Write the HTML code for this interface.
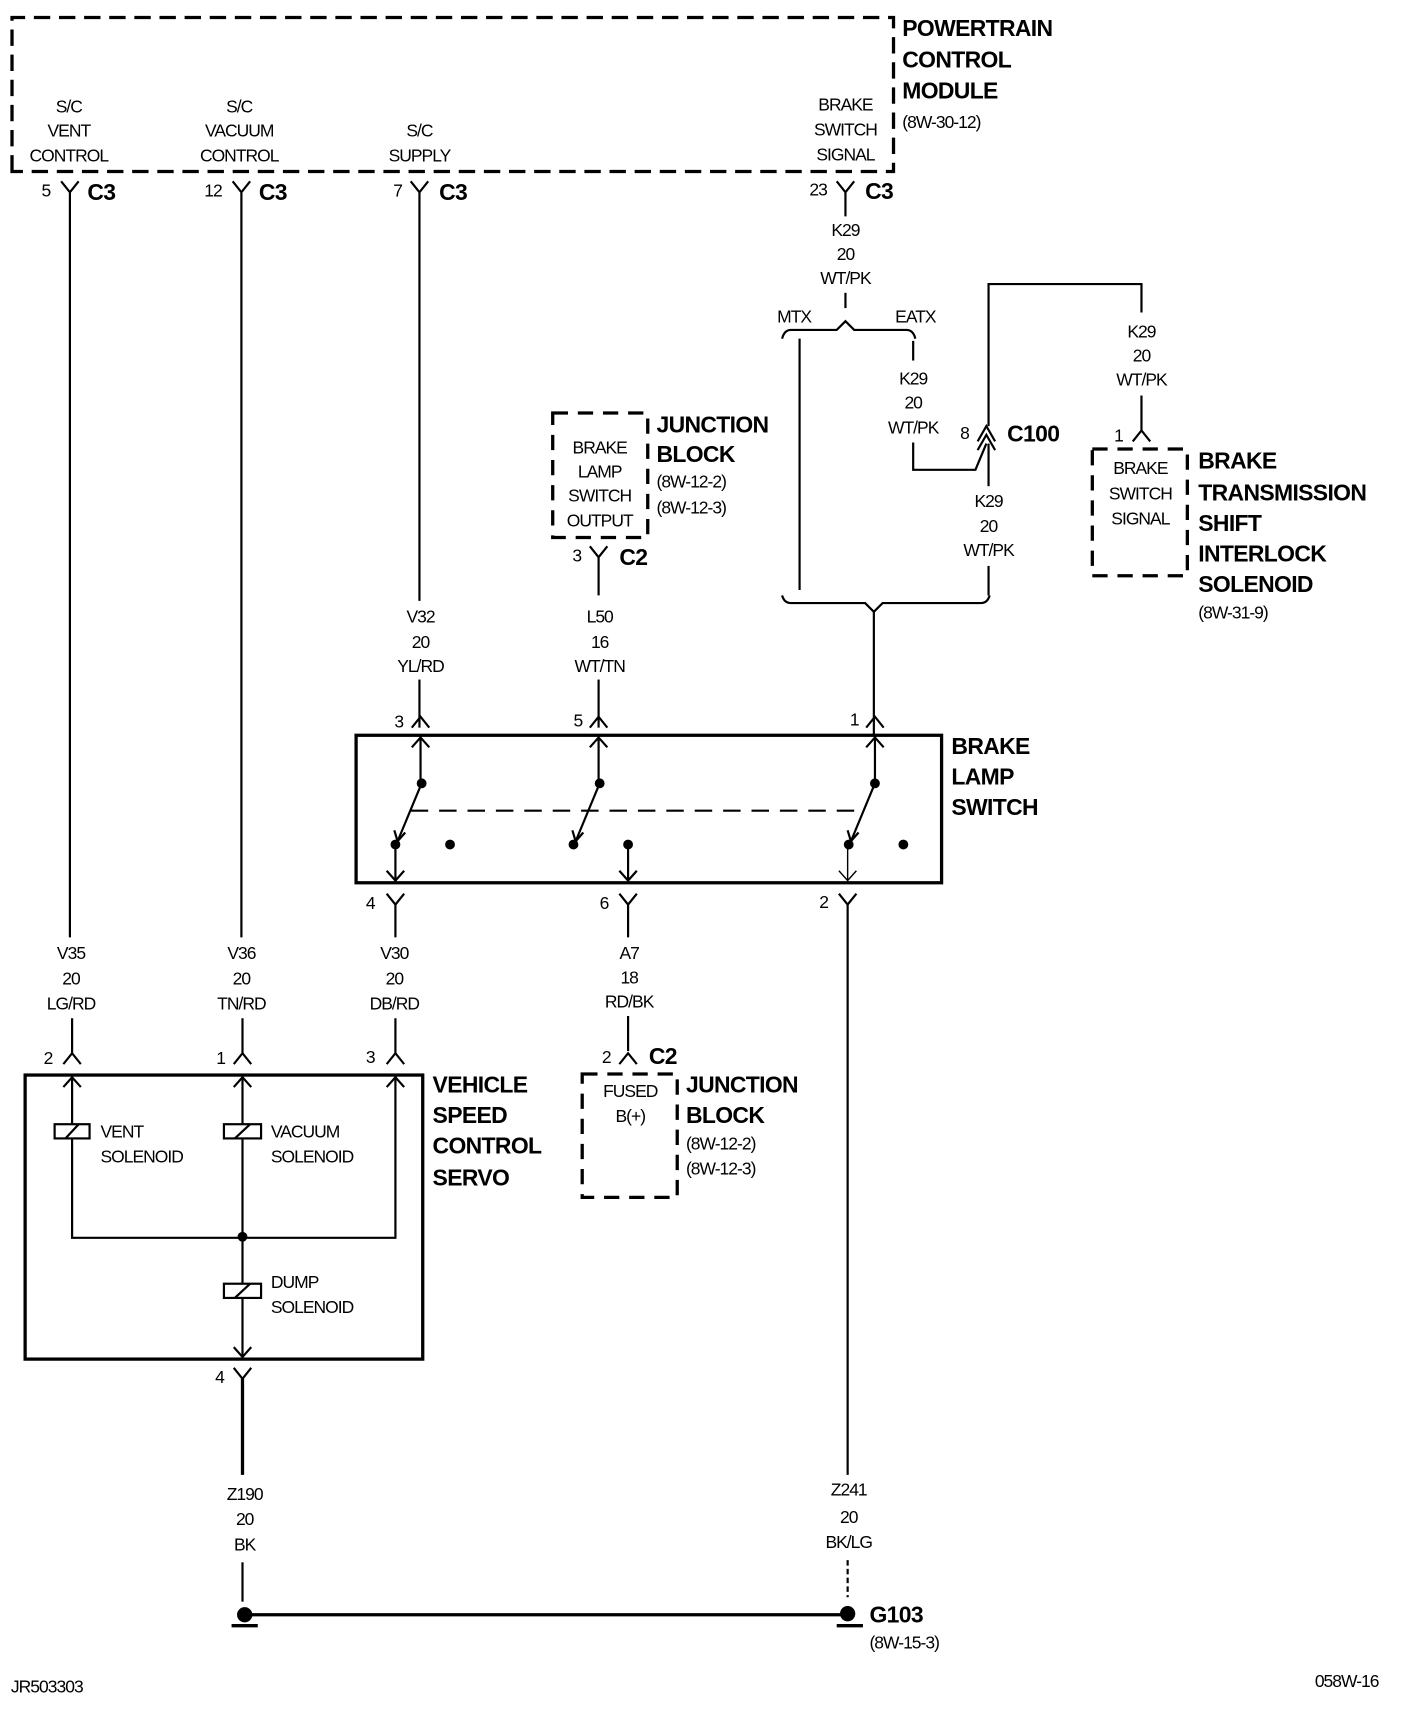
<!DOCTYPE html>
<html><head><meta charset="utf-8"><style>
html,body{margin:0;padding:0;background:#fff;}
svg{display:block;}
text{font-family:"Liberation Sans Narrow","Liberation Sans",sans-serif;fill:#000;}
.s{font-size:16px;letter-spacing:-0.9px;}
.b{font-size:21px;font-weight:bold;letter-spacing:-0.6px;}
.m{text-anchor:middle;}
</style></head><body>
<svg width="1408" height="1712" viewBox="0 0 1289 1567" preserveAspectRatio="none" xmlns="http://www.w3.org/2000/svg">
<g fill="none" stroke="#000" stroke-width="2">
<path d="M11 157 V16 H818 V157 Z" stroke-width="3" stroke-dasharray="15 8"/>
<path d="M56 166 L64 176 L72 166 M64 176 V858"/>
<path d="M213 166 L221 176 L229 166 M221 176 V858"/>
<path d="M376 166 L384 176 L392 166 M384 176 V550"/>
<path d="M766 166 L774 176 L782 166 M774 176 V198"/>
<path d="M774 268 V282"/>
<path d="M716 310 Q718 302 724 302 H766 L774 294 L782 302 H830 Q836 302 838 310"/>
<path d="M732 310 V540"/>
<path d="M836 312 V330"/>
<path d="M836 405 V430 H893 L903 406"/>
<path d="M895 404 L903 390 L911 404 M895 412 L903 398 L911 412"/>
<path d="M905 390 V260 H1045 V286"/>
<path d="M905 406 V445"/>
<path d="M905 518 V545"/>
<path d="M1045 362 V394 M1037 404 L1045 394 L1053 404"/>
<path d="M716 545 Q718 552 724 552 H792 L800 560 L808 552 H898 Q904 552 906 545"/>
<path d="M800 560 V672"/>
<path d="M1000 411 H1087 V527 H1000 Z" stroke-width="3" stroke-dasharray="14 9"/>
<path d="M506 378 H593 V492 H506 Z" stroke-width="3" stroke-dasharray="14 9"/>
<path d="M540 500 L548 510 L556 500 M548 510 V545"/>
<path d="M548 622 V666"/>
<path d="M384 622 V666"/>
<path d="M377 666 L385 656 L393 666 M540 666 L548 656 L556 666 M793 666 L801 656 L809 666"/>
<rect x="326" y="673" width="536" height="135" stroke-width="3"/>
<path d="M385 673 V717 M377 684 L385 675 L393 684"/>
<path d="M548 673 V717 M540 684 L548 675 L556 684"/>
<path d="M801 673 V717 M793 684 L801 675 L809 684"/>
<path d="M386 717 L364 770 M549 717 L527 770 M801 717 L779 770"/>
<path d="M361 760 L364 770 L371 762 M524 760 L527 770 L534 762 M776 760 L779 770 L786 762" stroke-width="2"/>
<path d="M376 742 H790" stroke-dasharray="16 10"/>
<path d="M362 773 V806 M354 797 L362 806 L370 797"/>
<path d="M575 773 V806 M567 797 L575 806 L583 797"/>
<path d="M776 773 V806 M768 797 L776 806 L784 797" stroke-width="1.3"/>
<path d="M354 818 L362 828 L370 818 M362 828 V858"/>
<path d="M567 818 L575 828 L583 818 M575 828 V858"/>
<path d="M768 818 L776 828 L784 818 M776 828 V1350"/>
<path d="M575 930 V962 M567 974 L575 964 L583 974"/>
<path d="M533 983 H620 V1096 H533 Z" stroke-width="3" stroke-dasharray="14 9"/>
<path d="M66 932 V964 M58 974 L66 964 L74 974"/>
<path d="M222 932 V964 M214 974 L222 964 L230 974"/>
<path d="M362 932 V964 M354 974 L362 964 L370 974"/>
<rect x="23" y="984" width="364" height="260" stroke-width="3"/>
<path d="M66 985 V1133 H362 V985 M58 995 L66 986 L74 995 M354 995 L362 986 L370 995"/>
<path d="M222 985 V1241 M214 995 L222 986 L230 995 M214 1233 L222 1242 L230 1233"/>
<rect x="50" y="1029" width="32" height="13" fill="#fff"/>
<path d="M60 1042 L72 1029"/>
<rect x="205" y="1029" width="34" height="13" fill="#fff"/>
<path d="M215 1042 L229 1029"/>
<rect x="205" y="1175" width="34" height="13" fill="#fff"/>
<path d="M215 1188 L229 1175"/>
<path d="M214 1252 L222 1262 L230 1252"/>
<path d="M222 1262 V1350" stroke-width="3"/>
<path d="M222 1430 V1466"/>
<path d="M776 1428 V1462" stroke-dasharray="5 3"/>
<path d="M222 1478 H776" stroke-width="3"/>
<path d="M212 1488 H236 M766 1488 H790" stroke-width="3"/>
</g>
<g fill="#000">
<circle cx="386" cy="717" r="4.5"/><circle cx="549" cy="717" r="4.5"/><circle cx="801" cy="717" r="4.5"/>
<circle cx="362" cy="773" r="4.5"/><circle cx="412" cy="773" r="4.5"/>
<circle cx="525" cy="773" r="4.5"/><circle cx="575" cy="773" r="4.5"/>
<circle cx="777" cy="773" r="4.5"/><circle cx="827" cy="773" r="4.5"/>
<circle cx="222" cy="1132" r="4.5"/>
<circle cx="224" cy="1478" r="7"/><circle cx="776" cy="1477" r="7"/>
</g>
<text class="b" x="826" y="33">POWERTRAIN</text>
<text class="b" x="826" y="62">CONTROL</text>
<text class="b" x="826" y="90">MODULE</text>
<text class="s" x="826" y="117">(8W-30-12)</text>
<text class="s m" x="63" y="103">S/C</text><text class="s m" x="63" y="125">VENT</text><text class="s m" x="63" y="148">CONTROL</text>
<text class="s m" x="219" y="103">S/C</text><text class="s m" x="219" y="125">VACUUM</text><text class="s m" x="219" y="148">CONTROL</text>
<text class="s m" x="384" y="125">S/C</text><text class="s m" x="384" y="148">SUPPLY</text>
<text class="s m" x="774" y="101">BRAKE</text><text class="s m" x="774" y="124">SWITCH</text><text class="s m" x="774" y="147">SIGNAL</text>
<text class="s" x="38" y="180">5</text><text class="b" x="80" y="183">C3</text>
<text class="s" x="187" y="180">12</text><text class="b" x="237" y="183">C3</text>
<text class="s" x="360" y="180">7</text><text class="b" x="402" y="183">C3</text>
<text class="s" x="741" y="179">23</text><text class="b" x="792" y="182">C3</text>
<text class="s m" x="774" y="216">K29</text><text class="s m" x="774" y="238">20</text><text class="s m" x="774" y="260">WT/PK</text>
<text class="s m" x="727" y="295">MTX</text><text class="s m" x="838" y="295">EATX</text>
<text class="s m" x="836" y="352">K29</text><text class="s m" x="836" y="374">20</text><text class="s m" x="836" y="397">WT/PK</text>
<text class="s" x="879" y="402">8</text><text class="b" x="922" y="404">C100</text>
<text class="s m" x="1045" y="309">K29</text><text class="s m" x="1045" y="331">20</text><text class="s m" x="1045" y="353">WT/PK</text>
<text class="s" x="1020" y="404">1</text>
<text class="s m" x="905" y="464">K29</text><text class="s m" x="905" y="487">20</text><text class="s m" x="905" y="509">WT/PK</text>
<text class="s m" x="1044" y="434">BRAKE</text><text class="s m" x="1044" y="457">SWITCH</text><text class="s m" x="1044" y="480">SIGNAL</text>
<text class="b" x="1097" y="429">BRAKE</text><text class="b" x="1097" y="458">TRANSMISSION</text><text class="b" x="1097" y="486">SHIFT</text><text class="b" x="1097" y="514">INTERLOCK</text><text class="b" x="1097" y="542">SOLENOID</text>
<text class="s" x="1097" y="566">(8W-31-9)</text>
<text class="s m" x="549" y="415">BRAKE</text><text class="s m" x="549" y="437">LAMP</text><text class="s m" x="549" y="459">SWITCH</text><text class="s m" x="549" y="482">OUTPUT</text>
<text class="b" x="601" y="396">JUNCTION</text><text class="b" x="601" y="423">BLOCK</text>
<text class="s" x="601" y="446">(8W-12-2)</text><text class="s" x="601" y="470">(8W-12-3)</text>
<text class="s" x="524" y="514">3</text><text class="b" x="567" y="517">C2</text>
<text class="s m" x="385" y="570">V32</text><text class="s m" x="385" y="593">20</text><text class="s m" x="385" y="615">YL/RD</text>
<text class="s m" x="549" y="570">L50</text><text class="s m" x="549" y="593">16</text><text class="s m" x="549" y="615">WT/TN</text>
<text class="s" x="361" y="666">3</text><text class="s" x="525" y="665">5</text><text class="s" x="778" y="664">1</text>
<text class="b" x="871" y="690">BRAKE</text><text class="b" x="871" y="718">LAMP</text><text class="b" x="871" y="746">SWITCH</text>
<text class="s" x="335" y="832">4</text><text class="s" x="549" y="832">6</text><text class="s" x="750" y="831">2</text>
<text class="s m" x="65" y="878">V35</text><text class="s m" x="65" y="901">20</text><text class="s m" x="65" y="924">LG/RD</text>
<text class="s m" x="221" y="878">V36</text><text class="s m" x="221" y="901">20</text><text class="s m" x="221" y="924">TN/RD</text>
<text class="s m" x="361" y="878">V30</text><text class="s m" x="361" y="901">20</text><text class="s m" x="361" y="924">DB/RD</text>
<text class="s m" x="576" y="878">A7</text><text class="s m" x="576" y="900">18</text><text class="s m" x="576" y="922">RD/BK</text>
<text class="s" x="40" y="974">2</text><text class="s" x="198" y="974">1</text><text class="s" x="335" y="973">3</text>
<text class="s" x="551" y="973">2</text><text class="b" x="594" y="974">C2</text>
<text class="s m" x="577" y="1004">FUSED</text><text class="s m" x="577" y="1027">B(+)</text>
<text class="b" x="628" y="1000">JUNCTION</text><text class="b" x="628" y="1028">BLOCK</text>
<text class="s" x="628" y="1052">(8W-12-2)</text><text class="s" x="628" y="1075">(8W-12-3)</text>
<text class="b" x="396" y="1000">VEHICLE</text><text class="b" x="396" y="1028">SPEED</text><text class="b" x="396" y="1056">CONTROL</text><text class="b" x="396" y="1085">SERVO</text>
<text class="s" x="92" y="1041">VENT</text><text class="s" x="92" y="1064">SOLENOID</text>
<text class="s" x="248" y="1041">VACUUM</text><text class="s" x="248" y="1064">SOLENOID</text>
<text class="s" x="248" y="1179">DUMP</text><text class="s" x="248" y="1202">SOLENOID</text>
<text class="s" x="197" y="1266">4</text>
<text class="s m" x="224" y="1373">Z190</text><text class="s m" x="224" y="1396">20</text><text class="s m" x="224" y="1419">BK</text>
<text class="s m" x="777" y="1369">Z241</text><text class="s m" x="777" y="1394">20</text><text class="s m" x="777" y="1417">BK/LG</text>
<text class="b" x="796" y="1485">G103</text><text class="s" x="796" y="1509">(8W-15-3)</text>
<text class="s" x="10" y="1549">JR503303</text>
<text class="s" x="1262" y="1544" text-anchor="end">058W-16</text>
</svg>
</body></html>
